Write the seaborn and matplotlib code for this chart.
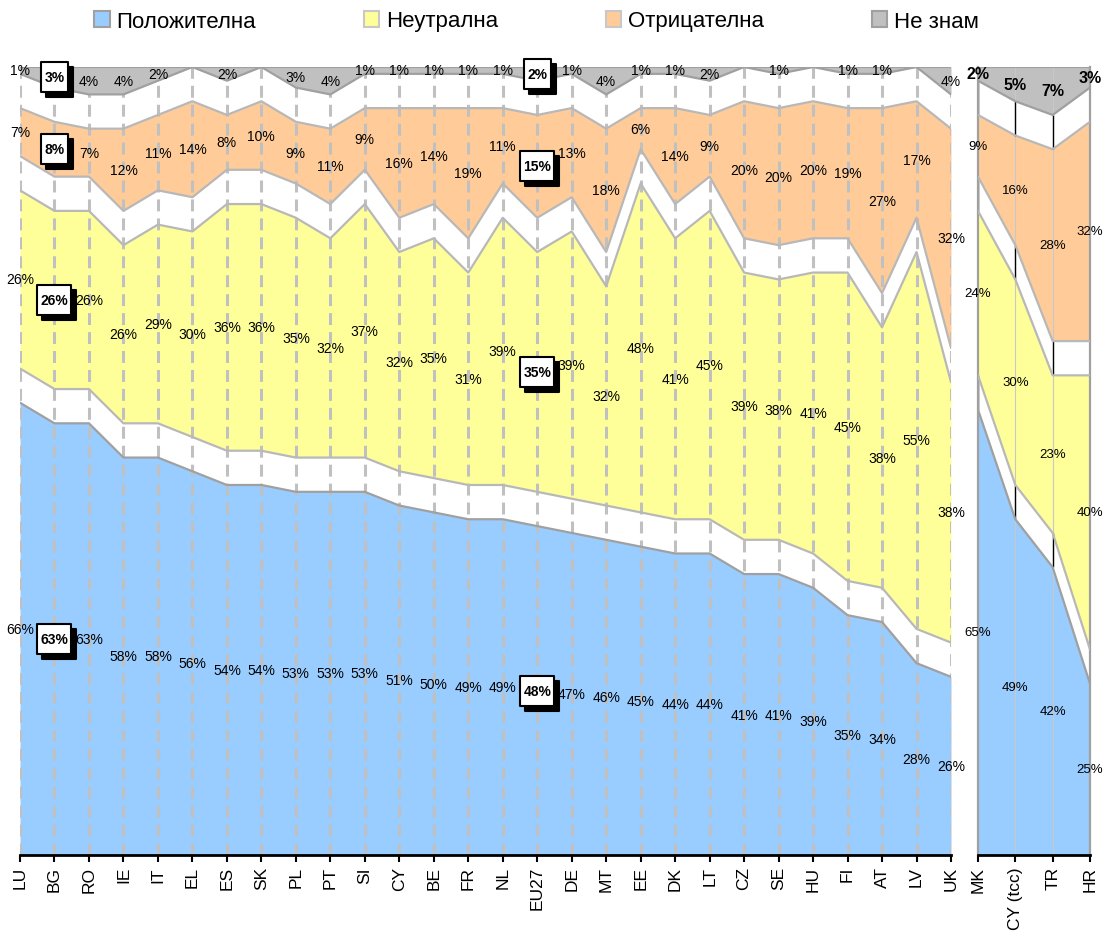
import numpy as np
import matplotlib
matplotlib.use('Agg')
import matplotlib.pyplot as plt
import matplotlib.transforms as mtrans
from matplotlib.patches import Patch
from matplotlib.path import Path
import seaborn as sns

# ---- data ----
countries = ['LU', 'BG', 'RO', 'IE', 'IT', 'EL', 'ES', 'SK', 'PL', 'PT', 'SI', 'CY', 'BE', 'FR',
             'NL', 'EU27', 'DE', 'MT', 'EE', 'DK', 'LT', 'CZ', 'SE', 'HU', 'FI', 'AT', 'LV', 'UK']
positive = [66, 63, 63, 58, 58, 56, 54, 54, 53, 53, 53, 51, 50, 49, 49, 48, 47, 46, 45, 44, 44, 41, 41, 39, 35, 34, 28, 26]
neutral = [26, 26, 26, 26, 29, 30, 36, 36, 35, 32, 37, 32, 35, 31, 39, 35, 39, 32, 48, 41, 45, 39, 38, 41, 45, 38, 55, 38]
negative = [7, 8, 7, 12, 11, 14, 8, 10, 9, 11, 9, 16, 14, 19, 11, 15, 13, 18, 6, 14, 9, 20, 20, 20, 19, 27, 17, 32]
dont_know = [1, 3, 4, 4, 2, 0, 2, 0, 3, 4, 1, 1, 1, 1, 1, 2, 1, 4, 1, 1, 2, 0, 1, 0, 1, 1, 0, 4]

candidates = ['MK', 'CY (tcc)', 'TR', 'HR']
cand_positive = [65, 49, 42, 25]
cand_neutral = [24, 30, 23, 40]
cand_negative = [9, 16, 28, 32]
cand_dont_know = [2, 5, 7, 3]

legend_labels = ['Положителна', 'Неутрална', 'Отрицателна', 'Не знам']
highlight = ['BG', 'EU27']

GAP = 5
colors = ['#99CCFF', '#FFFF99', '#FFCC99', '#C0C0C0']
edge_dark = '#A0A0A0'
edge_light = '#B8B8B8'

sns.set_theme(style='white')
plt.rcParams['font.family'] = ['Liberation Sans', 'DejaVu Sans']

W, H = 1103, 937
fig = plt.figure(figsize=(W / 100, H / 100), dpi=100)
ax_main = fig.add_axes([20 / W, 1 - 856 / H, 931 / W, 788 / H])
ax_cand = fig.add_axes([978 / W, 1 - 856 / H, 112 / W, 788 / H])


def box_marker(w, h):
    verts = [(-w / 2, -h / 2), (w / 2, -h / 2), (w / 2, h / 2), (-w / 2, h / 2), (-w / 2, -h / 2)]
    codes = [Path.MOVETO, Path.LINETO, Path.LINETO, Path.LINETO, Path.CLOSEPOLY]
    return Path(verts, codes)


def draw_panel(ax, names, series, main=True):
    x = np.arange(len(names))
    pos, neu, neg, dk = [np.array(s, dtype=float) for s in series]
    t0 = pos
    b1 = t0 + GAP
    t1 = b1 + neu
    b2 = t1 + GAP
    t2 = b2 + neg
    b3 = t2 + GAP
    t3 = b3 + dk
    segs = [(np.zeros_like(pos), t0), (b1, t1), (b2, t2), (b3, t3)]
    for (lo, hi), c in zip(segs, colors):
        ax.fill_between(x, lo, hi, color=c, lw=0, zorder=1)

    if main:
        ax.vlines(x, 0, t3, colors='#C0C0C0', lw=2.2, linestyles=(0, (3.9, 2.3)), zorder=2)
    else:
        ax.vlines(x[1:-1], 0, t3[1:-1], colors='#C8C8C8', lw=0.8, zorder=2)
        for lo, hi in [(t0, b1), (t1, b2), (t2, b3)]:
            ax.vlines(x, lo, hi, colors='black', lw=1.0, zorder=2)

    edges = [(t0, edge_dark), (b1, edge_light), (t1, edge_light), (b2, edge_light),
             (t2, edge_light), (b3, edge_dark), (t3, edge_dark)]
    for line, ec in edges:
        sns.lineplot(x=x, y=line, color=ec, lw=1.6, ax=ax, zorder=3)

    shadow = mtrans.offset_copy(ax.transData, fig=fig, x=5, y=-5, units='dots')
    for k, ((lo, hi), vals) in enumerate(zip(segs, [pos, neu, neg, dk])):
        for i, v in enumerate(vals):
            if v <= 0:
                continue
            txt = f'{int(v)}%'
            ym = (lo[i] + hi[i]) / 2
            if main and names[i] in highlight:
                w = 34 if len(txt) >= 3 else 27
                mk = box_marker(w, 30)
                ms = max(w, 30) * 0.72
                ax.plot(x[i], ym, marker=mk, ms=ms, mfc='black', mec='black', mew=1.5,
                        transform=shadow, clip_on=False, zorder=5)
                ax.plot(x[i], ym, marker=mk, ms=ms, mfc='white', mec='black', mew=1.5,
                        clip_on=False, zorder=6)
                ax.text(x[i], ym, txt, ha='center', va='center', fontsize=10,
                        fontweight='bold', color='black', zorder=7, clip_on=False)
            elif not main and k == 3:
                ax.text(x[i], ym, txt, ha='center', va='center', fontsize=11.5,
                        fontweight='bold', color='black', zorder=7, clip_on=False)
            else:
                ax.text(x[i], ym, txt, ha='center', va='center',
                        fontsize=10 if main else 9.5, color='black', zorder=7, clip_on=False)

    ax.set_xlim(0, len(names) - 1)
    ax.set_ylim(0, 100 + 3 * GAP)
    ax.set_xticks(x)
    ax.set_xticklabels(names, rotation=90, fontsize=12.5, color='black')
    ax.set_yticks([])
    ax.set_xlabel('')
    ax.set_ylabel('')
    ax.tick_params(axis='x', bottom=True, length=5, width=1.5, color='black', pad=3)
    for s in ['top', 'left', 'right']:
        ax.spines[s].set_visible(False)
    ax.spines['bottom'].set_color('black')
    ax.spines['bottom'].set_linewidth(2)
    ax.spines['bottom'].set_zorder(8)
    if not main:
        for s in ['left', 'right']:
            ax.spines[s].set_visible(True)
            ax.spines[s].set_color(edge_dark)
            ax.spines[s].set_linewidth(1.6)


draw_panel(ax_main, countries, [positive, neutral, negative, dont_know], main=True)
draw_panel(ax_cand, candidates, [cand_positive, cand_neutral, cand_negative, cand_dont_know], main=False)

handle_edges = [edge_dark, '#C8C8C8', '#C8C8C8', edge_dark]
handles = [Patch(facecolor=c, edgecolor=e, lw=1.5) for c, e in zip(colors, handle_edges)]
fig.legend(handles, legend_labels, loc='center left', bbox_to_anchor=(94 / W, 1 - 22 / H),
           ncol=4, frameon=False, fontsize=16, handlelength=0.7, handleheight=0.7,
           handletextpad=0.3, columnspacing=4.85, borderpad=0, borderaxespad=0,
           labelcolor='black')

fig.savefig('out.png', dpi=100)
